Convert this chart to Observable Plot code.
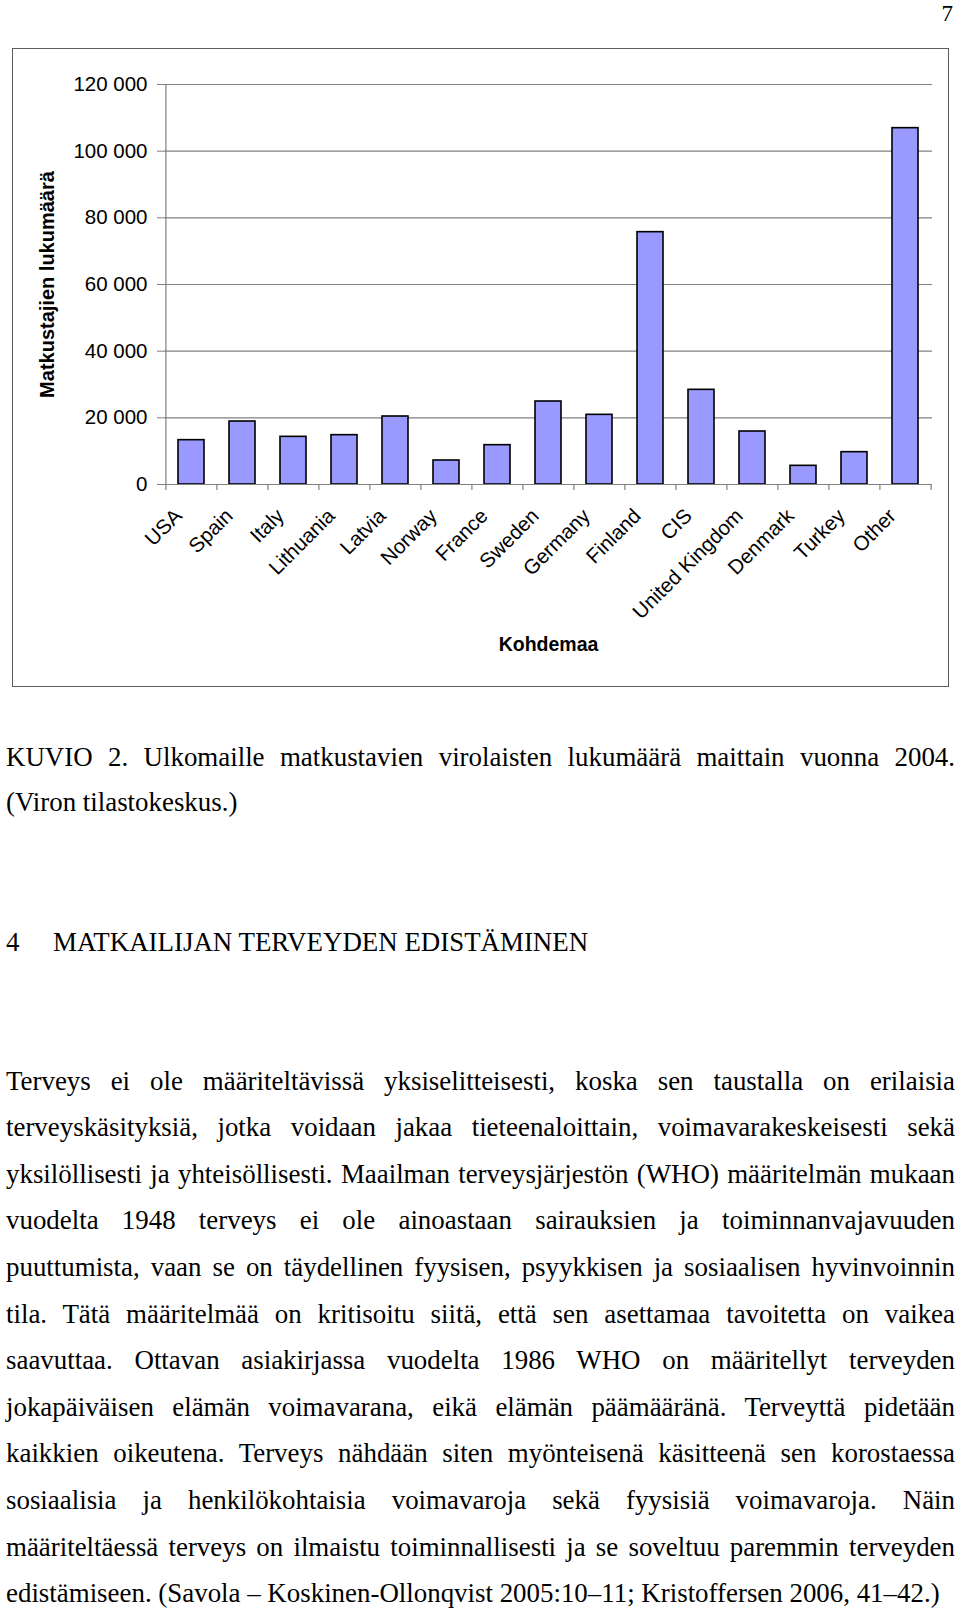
<!DOCTYPE html>
<html>
<head>
<meta charset="utf-8">
<script src="https://cdn.jsdelivr.net/npm/d3@7"></script>
<script src="https://cdn.jsdelivr.net/npm/@observablehq/plot@0.6"></script>
<style>
html,body{margin:0;padding:0;background:#fff;}
#page{position:relative;width:960px;height:1610px;overflow:hidden;font-family:"Liberation Serif","Times New Roman",serif;color:#000;}
#chart{position:absolute;left:0;top:0;}
#frame{position:absolute;left:12px;top:48px;width:935px;height:637px;border:1.6px solid #5c5c5c;}
.line{position:absolute;left:6px;width:949px;white-space:normal;}
.j{text-align:justify;text-align-last:justify;}
</style>
</head>
<body>
<div id="page">
  <div id="frame"></div>
  <div id="chart"></div>
</div>
<script>
// ---------- data ----------
const countries = ["USA","Spain","Italy","Lithuania","Latvia","Norway","France","Sweden","Germany","Finland","CIS","United Kingdom","Denmark","Turkey","Other"];
const travellers = [13300,18900,14300,14800,20400,7200,11800,24900,20900,75700,28400,15900,5600,9700,106900];
const yTicks = [0,20000,40000,60000,80000,100000,120000];
const yTitle = "Matkustajien lukumäärä";
const xTitle = "Kohdemaa";
const pageNumber = "7";
const captionLines = [
  "KUVIO 2. Ulkomaille matkustavien virolaisten lukumäärä maittain vuonna 2004.",
  "(Viron tilastokeskus.)"
];
const headingNumber = "4";
const headingText = "MATKAILIJAN TERVEYDEN EDISTÄMINEN";
const bodyLines = [
  "Terveys ei ole määriteltävissä yksiselitteisesti, koska sen taustalla on erilaisia",
  "terveyskäsityksiä, jotka voidaan jakaa tieteenaloittain, voimavarakeskeisesti sekä",
  "yksilöllisesti ja yhteisöllisesti. Maailman terveysjärjestön (WHO) määritelmän mukaan",
  "vuodelta 1948 terveys ei ole ainoastaan sairauksien ja toiminnanvajavuuden",
  "puuttumista, vaan se on täydellinen fyysisen, psyykkisen ja sosiaalisen hyvinvoinnin",
  "tila. Tätä määritelmää on kritisoitu siitä, että sen asettamaa tavoitetta on vaikea",
  "saavuttaa. Ottavan asiakirjassa vuodelta 1986 WHO on määritellyt terveyden",
  "jokapäiväisen elämän voimavarana, eikä elämän päämääränä. Terveyttä pidetään",
  "kaikkien oikeutena. Terveys nähdään siten myönteisenä käsitteenä sen korostaessa",
  "sosiaalisia ja henkilökohtaisia voimavaroja sekä fyysisiä voimavaroja. Näin",
  "määriteltäessä terveys on ilmaistu toiminnallisesti ja se soveltuu paremmin terveyden",
  "edistämiseen. (Savola – Koskinen-Ollonqvist 2005:10–11; Kristoffersen 2006, 41–42.)"
];

// ---------- chart ----------
const data = countries.map((c, i) => ({country: c, value: travellers[i]}));
const W = 960, H = 700, mL = 164, mR = 28, mT = 84, mB = 216;
const step = (W - mL - mR) / countries.length;
const grey = "#808080";
const fmt = d3.formatLocale({thousands: " ", grouping: [3], decimal: ",", currency: ["", ""]}).format(",");

const chart = Plot.plot({
  width: W, height: H,
  marginLeft: mL, marginRight: mR, marginTop: mT, marginBottom: mB,
  style: {fontFamily: '"Liberation Sans", Arial, sans-serif', fontSize: "20.5px", color: "#000", background: "transparent", overflow: "visible"},
  x: {domain: countries, paddingInner: 0.49, paddingOuter: 0.245, axis: null},
  y: {domain: [0, 120000], axis: null},
  marks: [
    Plot.gridY(yTicks, {stroke: grey, strokeOpacity: 1, strokeWidth: 1.2}),
    Plot.barY(data, {x: "country", y: "value", fill: "#9999ff", stroke: "#000", strokeWidth: 1.6}),
    Plot.ruleY([0], {stroke: grey, strokeWidth: 1.2}),
    Plot.ruleX([countries[0]], {dx: -step / 2, stroke: grey, strokeWidth: 1.2}),
    Plot.ruleX(countries, {y1: 0, y2: 0, insetBottom: -6, dx: -step / 2, stroke: grey, strokeWidth: 1.2}),
    Plot.ruleX([countries[countries.length - 1]], {y1: 0, y2: 0, insetBottom: -6, dx: step / 2, stroke: grey, strokeWidth: 1.2}),
    Plot.axisY(yTicks, {tickSize: 7, tickPadding: 10, tickFormat: fmt, stroke: grey, fill: "#000", label: null}),
    Plot.axisX({tickSize: 0, tickPadding: 28, tickRotate: -45, dx: -13, fill: "#000", label: null}),
    Plot.text([yTitle], {text: d => d, frameAnchor: "left", textAnchor: "middle", rotate: -90, dx: -117, fontWeight: "bold", fontSize: 20, fill: "#000"}),
    Plot.text([xTitle], {text: d => d, frameAnchor: "bottom", textAnchor: "middle", dy: 166, fontWeight: "bold", fontSize: 19.5, fill: "#000"})
  ]
});
document.getElementById("chart").appendChild(chart);

// ---------- document text ----------
const page = document.getElementById("page");
const ctx = document.createElement("canvas").getContext("2d");
ctx.font = '100px "Liberation Serif"';
let fs = 100 * 934 / ctx.measureText(bodyLines[bodyLines.length - 1]).width;
fs = Math.max(22, Math.min(28, fs));
const asc = 0.891, desc = 0.216;

function addLine(text, baseline, lh, justify, left) {
  const d = document.createElement("div");
  d.className = "line" + (justify ? " j" : "");
  d.textContent = text;
  d.style.fontSize = fs + "px";
  d.style.lineHeight = lh + "px";
  d.style.top = (baseline - ((lh - (asc + desc) * fs) / 2 + asc * fs)) + "px";
  if (left != null) { d.style.left = left + "px"; d.style.width = "auto"; }
  page.appendChild(d);
  return d;
}

// page number
const pnSize = 23, pnLH = 23;
const pn = document.createElement("div");
pn.textContent = pageNumber;
Object.assign(pn.style, {position: "absolute", right: "7px", top: (21 - ((pnLH - (asc + desc) * pnSize) / 2 + asc * pnSize)) + "px", fontSize: pnSize + "px", lineHeight: pnLH + "px"});
page.appendChild(pn);

// caption
addLine(captionLines[0], 766.5, 45, true);
addLine(captionLines[1], 811.5, 45, false);

// heading
addLine(headingNumber, 951.5, 46.6, false, 6);
addLine(headingText, 951.5, 46.6, false, 53);

// body
bodyLines.forEach((t, i) => addLine(t, 1090 + 46.6 * i, 46.6, i < bodyLines.length - 1));
</script>
</body>
</html>
